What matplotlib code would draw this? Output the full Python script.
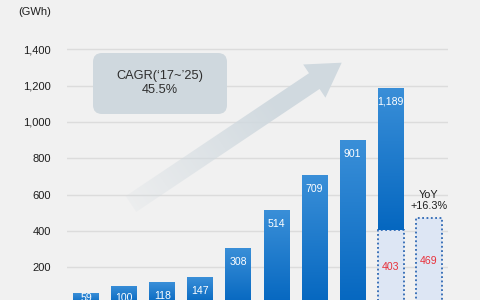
import numpy as np
import matplotlib.pyplot as plt
from matplotlib.patches import Rectangle, FancyBboxPatch, Polygon
from matplotlib.colors import LinearSegmentedColormap, to_rgb

plt.rcParams['font.family'] = ['Liberation Sans', 'DejaVu Sans']

# data (GWh)
values = [59, 100, 118, 147, 308, 514, 709, 901, 1189]
h1_prev = 403      # first-half part of the last full-year bar
h1_curr = 469      # first half of the following year
yoy_label = 'YoY\n+16.3%'
cagr_label = 'CAGR(‘17~’25)\n45.5%'
yticks = [0, 200, 400, 600, 800, 1000, 1200, 1400]

BG = '#f1f1f1'
PX = 0.1818  # pixels per GWh

fig = plt.figure(figsize=(4.8, 3.0), dpi=100)
fig.patch.set_facecolor(BG)
ax = fig.add_axes([67 / 480, -3.7 / 300, (448 - 67) / 480, 1650 * PX / 300])
ax.set_facecolor(BG)
for s in ax.spines.values():
    s.set_visible(False)

ax.set_yticks(yticks)
ax.set_yticklabels([f'{v:,}' for v in yticks])
ax.tick_params(axis='y', length=0, pad=11.5, labelsize=8, labelcolor='#1e1e1e')
ax.set_xticks([])
ax.yaxis.grid(True, color='#dcdcdc', lw=1)
ax.set_axisbelow(True)

fig.text(51 / 480, 1 - 12 / 300, '(GWh)', ha='right', va='center',
         fontsize=8, color='#1e1e1e')

# big growth arrow (decoration), built in pixel coords
tail = np.array([131.0, 204.0])
tip = np.array([341.7, 62.7])
u = (tip - tail) / np.linalg.norm(tip - tail)
n = np.array([-u[1], u[0]])
base = tip - 33 * u
w, h = 9.5, 20
pts = [tail + w * n, base + w * n, base + h * n, tip, base - h * n, base - w * n, tail - w * n]
pts_fig = [(p[0] / 480, 1 - p[1] / 300) for p in pts]
arrow = Polygon(pts_fig, closed=True, transform=fig.transFigure, fc='none', ec='none')
ax.add_patch(arrow)

x0, x1, y0, y1 = 110, 355, 50, 220
xs = np.linspace(x0, x1, 245)
ys = np.linspace(y0, y1, 170)
X, Y = np.meshgrid(xs, ys)
t = ((X - tail[0]) * u[0] + (Y - tail[1]) * u[1]) / np.linalg.norm(tip - tail)
alpha = np.clip(0.15 + 0.85 * t / 0.7, 0, 1)
rgba = np.zeros(X.shape + (4,))
rgba[..., :3] = to_rgb('#d0d9df')
rgba[..., 3] = alpha
im = ax.imshow(rgba, extent=(x0 / 480, x1 / 480, 1 - y1 / 300, 1 - y0 / 300),
               origin='upper', transform=fig.transFigure, aspect='auto',
               interpolation='bilinear', zorder=1.5)
im.set_clip_path(arrow)

# CAGR box
box = FancyBboxPatch((93 / 480, 1 - 114 / 300), 134 / 480, 61 / 300,
                     boxstyle='round,pad=0,rounding_size=%f' % (9 / 480),
                     mutation_aspect=1.6, transform=fig.transFigure,
                     fc='#cfd8de', ec='none', zorder=2)
ax.add_patch(box)
fig.text(160 / 480, 1 - 83 / 300, cagr_label, ha='center', va='center',
         fontsize=9.2, color='#2e2e2e', linespacing=1.25, zorder=3)

# bars
bw = 0.68
cmap = LinearSegmentedColormap.from_list('bar', ['#0567c0', '#3a8fd8'])
grad = np.linspace(0, 1, 256).reshape(-1, 1)


def grad_bar(x, y0, y1):
    r = Rectangle((x - bw / 2, y0), bw, y1 - y0, fc='none', ec='none', zorder=3)
    ax.add_patch(r)
    g = ax.imshow(grad, cmap=cmap, origin='lower', aspect='auto',
                  extent=(x - bw / 2, x + bw / 2, y0, y1), zorder=3)
    g.set_clip_path(r)


def dotted_bar(x, y0, y1):
    ax.add_patch(Rectangle((x - bw / 2, y0), bw, y1 - y0, fc='#dde6f4',
                           ec='#2f68b3', lw=1.3, ls=(0, (1, 1.4)), zorder=3))


last = len(values) - 1
for i, v in enumerate(values):
    if i == last:
        dotted_bar(i, 0, h1_prev)
        grad_bar(i, h1_prev, v)
    else:
        grad_bar(i, 0, v)
    ax.text(i, max(v - 77, 32), f'{v:,}', ha='center', va='center',
            fontsize=7.6, color='white', zorder=4)

dotted_bar(last + 1, 0, h1_curr)
ax.text(last, h1_prev / 2, f'{h1_prev}', ha='center', va='center',
        fontsize=7.6, color='#e8303a', zorder=4)
ax.text(last + 1, h1_curr / 2, f'{h1_curr}', ha='center', va='center',
        fontsize=7.6, color='#e8303a', zorder=4)
ax.text(last + 1, 568, yoy_label, ha='center', va='center', fontsize=7.8,
        color='#1e1e1e', linespacing=1.15, zorder=4)

ax.set_xlim(-0.5, 9.5)
ax.set_ylim(0, 1650)

fig.savefig('out.png', dpi=100, facecolor=BG)
